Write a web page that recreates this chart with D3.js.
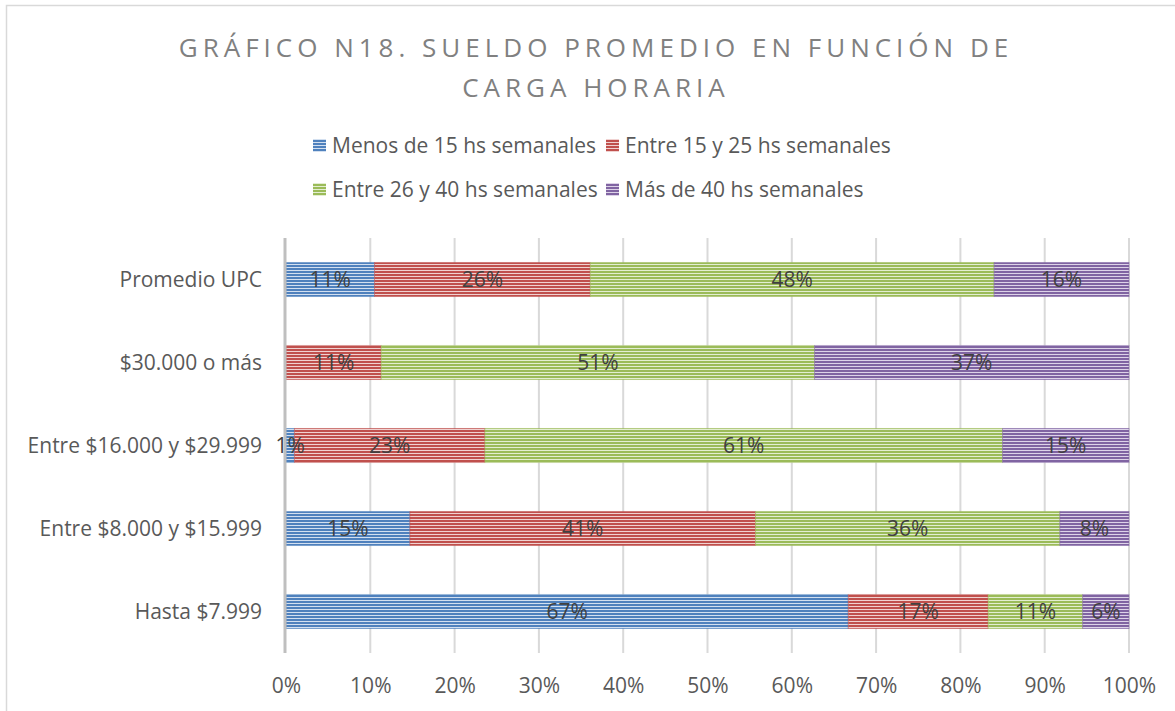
<!DOCTYPE html>
<html>
<head>
<meta charset="utf-8">
<script src="https://cdn.jsdelivr.net/npm/d3@7"></script>
<style>
  body { margin: 0; background: #fff; }
  svg text { font-family: "Open Sans", "Liberation Sans", sans-serif; }
</style>
</head>
<body>
<div id="chart"></div>
<script>
// data
var categories = ["Promedio UPC", "$30.000 o más", "Entre $16.000 y $29.999", "Entre $8.000 y $15.999", "Hasta $7.999"];
var seriesNames = ["Menos de 15 hs semanales", "Entre 15 y 25 hs semanales", "Entre 26 y 40 hs semanales", "Más de 40 hs semanales"];
var menos15 = [10.5, 0, 1.0, 14.7, 66.7];
var entre15y25 = [25.6, 11.3, 22.6, 41.0, 16.6];
var entre26y40 = [47.9, 51.4, 61.4, 36.1, 11.2];
var mas40 = [16.0, 37.3, 15.0, 8.2, 5.5];
var ticks = [0, 10, 20, 30, 40, 50, 60, 70, 80, 90, 100];

var colors = ["#4f81bd", "#c0504d", "#9bbb59", "#8064a2"];
var lights = ["#d3e0f0", "#f0d2d1", "#e3eed2", "#ddd3e8"];

var W = 1175, H = 711;
var margin = { top: 238, right: 46, bottom: 58, left: 286 };
var width = W - margin.left - margin.right;
var height = H - margin.top - margin.bottom;
var fs = "21px";

var svg = d3.select("#chart").append("svg")
    .attr("width", W)
    .attr("height", H);

// frame
svg.append("rect")
  .attr("x", 6.5).attr("y", 5.5)
  .attr("width", W + 10).attr("height", H + 10)
  .attr("fill", "none")
  .attr("stroke", "#d9d9d9")
  .attr("stroke-width", 1.5);

// stripe patterns
var defs = svg.append("defs");
colors.forEach(function(c, i) {
  var p = defs.append("pattern")
    .attr("id", "stripe" + i)
    .attr("patternUnits", "userSpaceOnUse")
    .attr("width", 8).attr("height", 3);
  p.append("rect").attr("width", 8).attr("height", 3).attr("fill", c);
  p.append("rect").attr("y", 2).attr("width", 8).attr("height", 1).attr("fill", lights[i]);
});

// title
var title = svg.append("g").attr("fill", "#808080")
  .attr("font-size", "26px")
  .attr("text-anchor", "middle")
  .style("letter-spacing", "5px");
title.append("text").attr("x", 596).attr("y", 57).text("GRÁFICO N18. SUELDO PROMEDIO EN FUNCIÓN DE");
title.append("text").attr("x", 596).attr("y", 97).text("CARGA HORARIA");

// legend
var legendPos = [[313, 146], [606, 146], [313, 190], [606, 190]];
var legend = svg.append("g");
seriesNames.forEach(function(name, i) {
  var lg = legend.append("g").attr("transform", "translate(" + legendPos[i][0] + "," + legendPos[i][1] + ")");
  lg.append("rect").attr("x", 0).attr("y", -7).attr("width", 13).attr("height", 13)
    .attr("fill", "url(#stripe" + i + ")");
  lg.append("text").attr("x", 19).attr("y", 7)
    .attr("font-size", fs).attr("fill", "#595959").text(name);
});

var g = svg.append("g")
  .attr("transform", "translate(" + margin.left + "," + margin.top + ")");

var x = d3.scaleLinear().domain([0, 100]).range([0, width]);
var y = d3.scaleBand().domain(categories).range([0, height]).paddingInner(0.59).paddingOuter(0.295);

// gridlines
g.selectAll(".grid").data(ticks.slice(1)).enter()
  .append("line")
  .attr("x1", function(d) { return x(d); })
  .attr("x2", function(d) { return x(d); })
  .attr("y1", 0).attr("y2", height)
  .attr("stroke", "#d9d9d9").attr("stroke-width", 2);

// stacked bars
var series = [menos15, entre15y25, entre26y40, mas40];
var rows = categories.map(function(c, i) {
  var o = { cat: c };
  series.forEach(function(s, k) { o["s" + k] = s[i]; });
  return o;
});
var stack = d3.stack().keys(["s0", "s1", "s2", "s3"]);
var stacked = stack(rows);

var layers = g.selectAll(".layer").data(stacked).enter()
  .append("g").attr("class", "layer");

layers.selectAll("rect")
  .data(function(d, k) { return d.map(function(v) { return { v: v, k: k }; }); })
  .enter().append("rect")
  .filter(function(d) { return d.v[1] - d.v[0] > 0; })
  .attr("x", function(d) { return x(d.v[0]); })
  .attr("y", function(d) { return y(d.v.data.cat); })
  .attr("width", function(d) { return x(d.v[1]) - x(d.v[0]); })
  .attr("height", y.bandwidth())
  .attr("fill", function(d) { return "url(#stripe" + d.k + ")"; })
  .attr("stroke", function(d) { return colors[d.k]; })
  .attr("stroke-opacity", 0.5)
  .attr("stroke-width", 1);

// axis line
g.append("line")
  .attr("x1", -1).attr("x2", -1)
  .attr("y1", 0).attr("y2", height)
  .attr("stroke", "#bfbfbf").attr("stroke-width", 3);

// data labels
var labels = g.append("g");
stacked.forEach(function(layer, k) {
  labels.selectAll(".lbl" + k)
    .data(layer.filter(function(v) { return v[1] - v[0] > 0; }))
    .enter().append("text")
    .attr("x", function(v) { return x((v[0] + v[1]) / 2); })
    .attr("y", function(v) { return y(v.data.cat) + y.bandwidth() / 2 + 7; })
    .attr("text-anchor", "middle")
    .attr("font-size", fs)
    .attr("fill", "#404040")
    .text(function(v) { return Math.round(v[1] - v[0]) + "%"; });
});

// category labels
var yAxis = g.append("g").call(d3.axisLeft(y).tickSize(0).tickPadding(24));
yAxis.select(".domain").remove();
yAxis.selectAll("text")
  .attr("font-size", fs).attr("fill", "#595959")
  .attr("dy", "0.35em");

// x tick labels
var xAxis = g.append("g").attr("transform", "translate(0," + height + ")")
  .call(d3.axisBottom(x).tickValues(ticks).tickSize(0).tickPadding(25)
    .tickFormat(function(d) { return d + "%"; }));
xAxis.select(".domain").remove();
xAxis.selectAll("text")
  .attr("font-size", fs).attr("fill", "#595959");
</script>
</body>
</html>
